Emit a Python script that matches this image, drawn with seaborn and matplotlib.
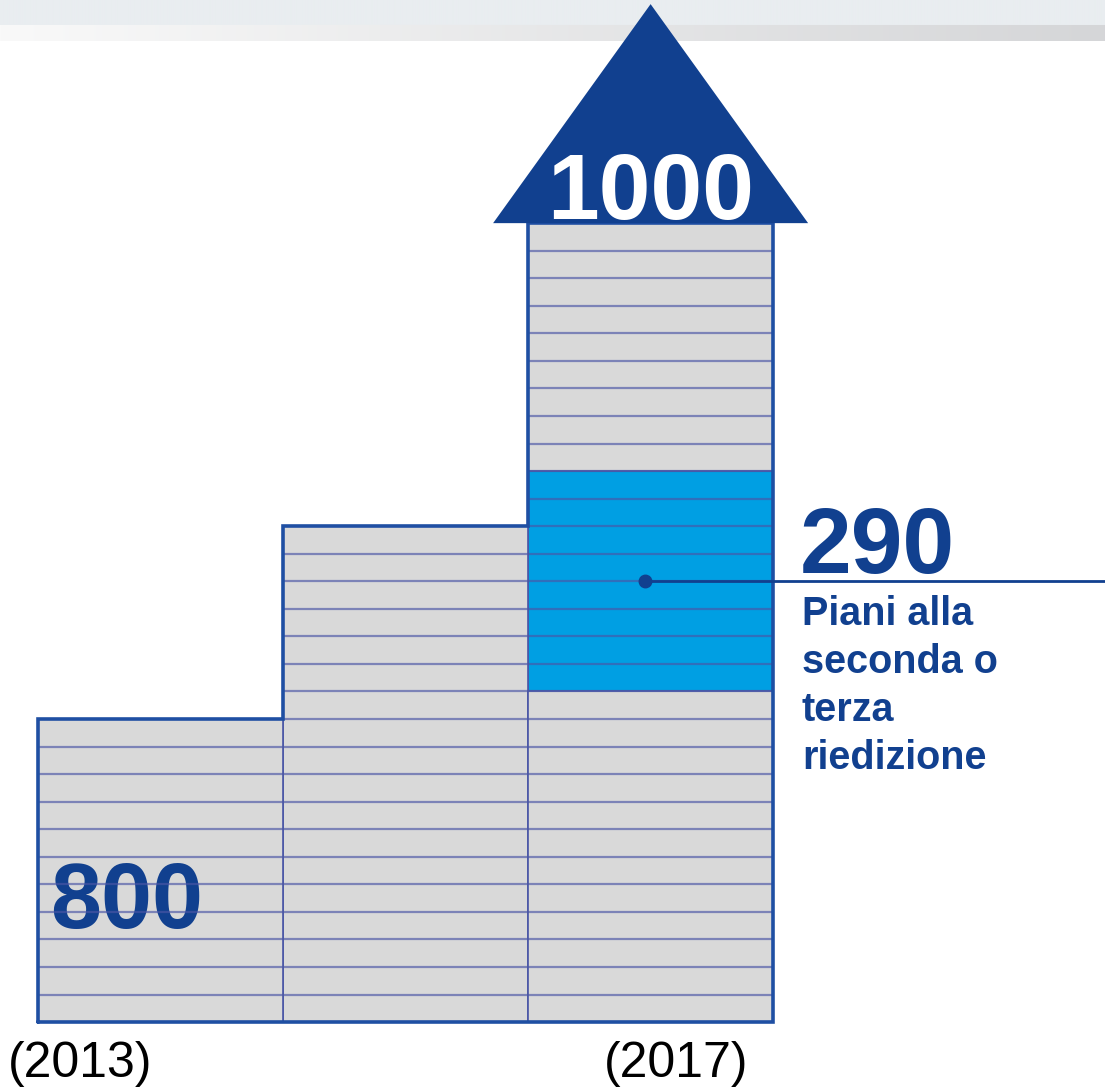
import numpy as np
import seaborn as sns
import matplotlib.pyplot as plt
from matplotlib.patches import Polygon
from matplotlib.colors import to_rgb

# values: one stripe = one floor
columns = ["2013", "2015", "2017"]
year_labels = ["(2013)", "", "(2017)"]
floors = [11, 18, 29]
value_labels = ["800", "", "1000"]
reissue_start = 12      # first blue floor of the last column
reissue_floors = 8
reissue_value = "290"
reissue_text = ["Piani alla", "seconda o", "terza", "riedizione"]

GRAY = "#d9d9d9"
BLUE = "#009fe3"
NAVY = "#11408f"
EDGE = "#1f4fa3"
FLOOR_LINE = "#4a56a6"

sns.set_style("white")
plt.rcParams["font.family"] = ["Liberation Sans", "DejaVu Sans"]

W, H = 1105, 1089
fig = plt.figure(figsize=(W / 100, H / 100), dpi=100)

# slide header (flat band + grey gradient strip)
hdr = np.zeros((41, 256, 3))
hdr[:25] = to_rgb("#e9edf0")
left, right = np.array(to_rgb("#f9f9f9")), np.array(to_rgb("#d5d6d8"))
t = np.linspace(0, 1, 256)[:, None]
hdr[25:] = left + (right - left) * t
hax = fig.add_axes([0, 1 - 41 / H, 1, 41 / H])
hax.imshow(hdr, aspect="auto", interpolation="bilinear")
hax.axis("off")

ax = fig.add_axes([0, 0, 1, 1])
ax.patch.set_alpha(0)

# columns drawn tallest first so shorter segments paint over the lower part
segments = [(columns[i], floors[i], GRAY) for i in range(len(columns))]
segments += [(columns[-1], reissue_start + reissue_floors, BLUE),
             (columns[-1], reissue_start, GRAY)]
for col, top, fill in sorted(segments, key=lambda s: -s[1]):
    sns.barplot(x=[col], y=[top], order=columns, color=fill, saturation=1,
                width=1.0, edgecolor=FLOOR_LINE, linewidth=1.2,
                errorbar=None, ax=ax)

# floor separators
for i, n in enumerate(floors):
    ax.hlines(np.arange(1, n), i - 0.5, i + 0.5, color=FLOOR_LINE,
              alpha=0.65, lw=1.6, zorder=3)

# outer outline of the stepped building
xs, ys = [-0.5], [0]
for i, n in enumerate(floors):
    xs += [i - 0.5, i + 0.5]
    ys += [n, n]
xs += [len(floors) - 0.5, -0.5]
ys += [0, 0]
ax.plot(xs, ys, color=EDGE, lw=2.6, solid_joinstyle="miter", zorder=4)

# roof on the last column
cx = len(floors) - 1
top = floors[-1]
ax.add_patch(Polygon([(cx - 0.643, top), (cx + 0.643, top), (cx, top + 7.95)],
                     closed=True, color=NAVY, lw=0, zorder=5))
ax.text(cx, top + 0.15, value_labels[-1], color="white", fontsize=67,
        fontweight="bold", ha="center", va="baseline", zorder=6)

# first column value, sitting under the floor lines
ax.text(-0.451, 3.42, value_labels[0], color=NAVY, fontsize=66,
        fontweight="bold", ha="left", va="baseline", zorder=2.5)

# callout for the reissued floors
mid = reissue_start + reissue_floors / 2
ax.plot([cx - 0.022, 4.0], [mid, mid], color=NAVY, lw=2, zorder=6)
ax.plot(cx - 0.022, mid, "o", color=NAVY, ms=9, zorder=7)
ax.text(cx + 0.61, mid + 0.3, reissue_value, color=NAVY, fontsize=67,
        fontweight="bold", ha="left", va="baseline", zorder=6)
for k, line in enumerate(reissue_text):
    ax.text(cx + 0.618, mid - 1.59 - 1.742 * k, line, color=NAVY,
            fontsize=28.5, fontweight="bold", ha="left", va="baseline")

# year labels under first and last column
ax.text(-0.5 - 0.123, -2.0, year_labels[0], color="black", fontsize=36,
        ha="left", va="baseline")
ax.text(cx + 0.5 - 0.10, -2.0, year_labels[-1], color="black", fontsize=36,
        ha="right", va="baseline")

ax.set_xlim(-0.656, 3.855)
ax.set_ylim(-2.43, 37.1)
ax.axis("off")

fig.savefig("out.png", dpi=100)
